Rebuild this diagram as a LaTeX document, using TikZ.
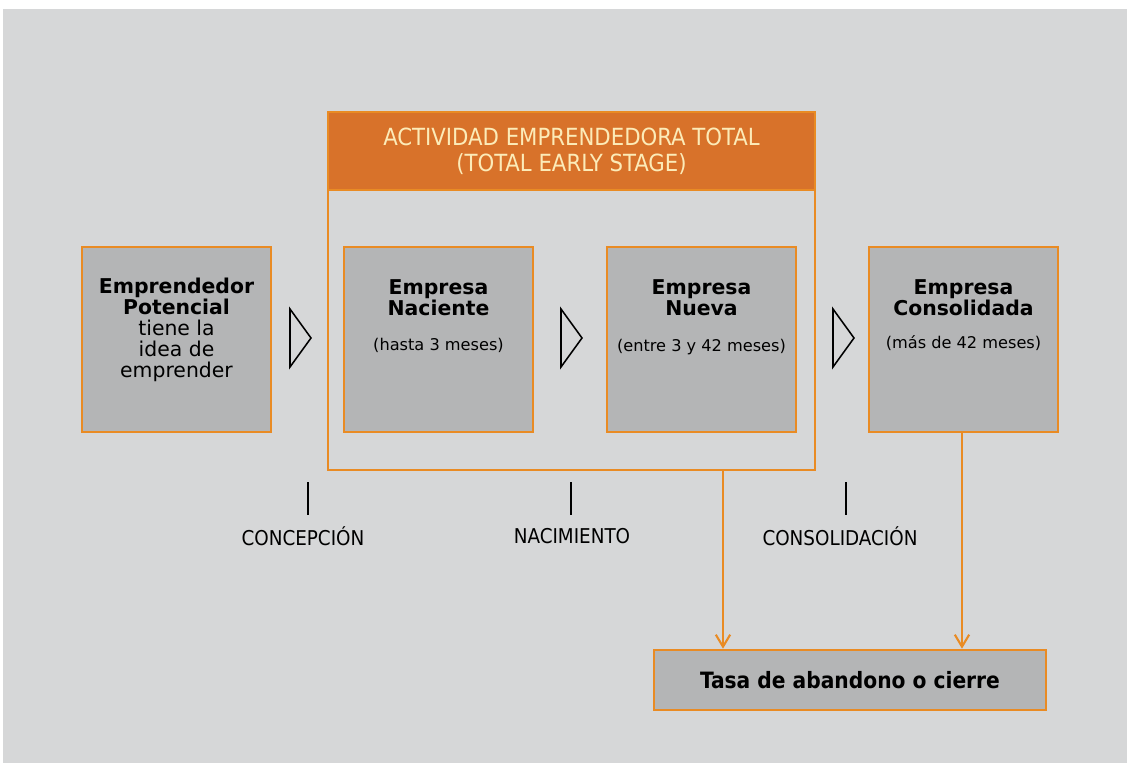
\documentclass[tikz,border=0pt]{standalone}
\usepackage{fontspec}
\setmainfont{DejaVu Sans}
\newfontfamily\condfont{DejaVu Sans Condensed}
\usepackage{tikz}
\usetikzlibrary{arrows.meta, positioning, calc}
\definecolor{bgrey}{HTML}{D6D7D8}
\definecolor{boxgrey}{HTML}{B4B5B6}
\definecolor{gemorange}{HTML}{E98B24}
\definecolor{hdrorange}{HTML}{D8722A}
\definecolor{hdrtext}{HTML}{FCEBB8}

\begin{document}
\begin{tikzpicture}[x=0.025cm,y=-0.025cm]
\tikzset{
  st/.style={rectangle,draw=gemorange,line width=1.8pt,fill=boxgrey,minimum width=4.725cm,minimum height=4.625cm,inner sep=0pt},
  ttl/.style={align=center,inner sep=0pt,font=\fontsize{14.5}{15}\selectfont\bfseries},
  sub/.style={inner sep=0pt,font=\fontsize{11.5}{13}\selectfont},
  frm/.style={rectangle,draw=gemorange,line width=1.5pt,minimum width=12.175cm,minimum height=8.95cm,inner sep=0pt},
  hdr/.style={rectangle,draw=gemorange,line width=1pt,fill=hdrorange,minimum width=12.175cm,minimum height=1.95cm,align=center,text=hdrtext,font=\condfont\fontsize{16.8}{18.5}\selectfont},
  tk/.style={line width=1.4pt,draw=black},
  lb/.style={inner sep=0pt,font=\condfont\fontsize{14.5}{17}\selectfont},
  chev/.style={draw=black,line width=1.1pt,line join=miter},
  ar/.style={-{Straight Barb[length=3mm,width=3.6mm]},line width=1.5pt,draw=gemorange}
}
% fondo
\useasboundingbox (0,0) rectangle (1127,763);
\fill[bgrey] (3,9) rectangle (1127,763);

% actividad emprendedora total
\node[frm] (ate) at (571.5,291) {};
\node[hdr] (atehdr) at (571.5,151) {ACTIVIDAD EMPRENDEDORA TOTAL\\(TOTAL EARLY STAGE)};

% etapas
\node[st] (pot) at (176.5,339.5) {};
\node[st] (nac) at (438.5,339.5) {};
\node[st] (nue) at (701.5,339.5) {};
\node[st] (con) at (963.5,339.5) {};
\node[ttl,below=0.8cm of pot.north] (potT) {Emprendedor\\Potencial\\\mdseries tiene la\\\mdseries idea de\\\mdseries emprender};
\node[ttl,below=0.85cm of nac.north] (nacT) {Empresa\\Naciente};
\node[ttl,below=0.85cm of nue.north] (nueT) {Empresa\\Nueva};
\node[ttl,below=0.85cm of con.north] (conT) {Empresa\\Consolidada};
\node[sub] (nacS) at ([yshift=-0.14cm]nac.center) {(hasta 3 meses)};
\node[sub] (nueS) at ([yshift=-0.19cm]nue.center) {(entre 3 y 42 meses)};
\node[sub] (conS) at ([yshift=-0.09cm]con.center) {(más de 42 meses)};

% flechas huecas
\coordinate (t1) at (300.5,338);
\coordinate (t2) at (571.5,338);
\coordinate (t3) at (843.5,338);
\foreach \t in {t1,t2,t3}
  \draw[chev] (\t) ++(-10.5,-29) -- ++(21,29) -- ++(-21,29) -- cycle;

% hitos
\coordinate (k1) at (308,482);
\coordinate (k2) at (571,482);
\coordinate (k3) at (846,482);
\foreach \k in {k1,k2,k3}
  \draw[tk] (\k) -- ++(0,33);
\node[lb] (concep) at (303,536) {CONCEPCIÓN};
\node[lb] (nacim) at (572,536) {NACIMIENTO};
\node[lb] (consol) at (840,536) {CONSOLIDACIÓN};

% abandono
\node[st,minimum width=9.8cm,minimum height=1.5cm,font=\condfont\bfseries\fontsize{16}{18}\selectfont] (tasa) at (850,680) {Tasa de abandono o cierre};
\coordinate (d1) at (723,470);
\coordinate (d2) at (962,432);
\draw[ar] (d1) -- (d1 |- tasa.north);
\draw[ar] (d2) -- (d2 |- tasa.north);
\end{tikzpicture}
\end{document}
